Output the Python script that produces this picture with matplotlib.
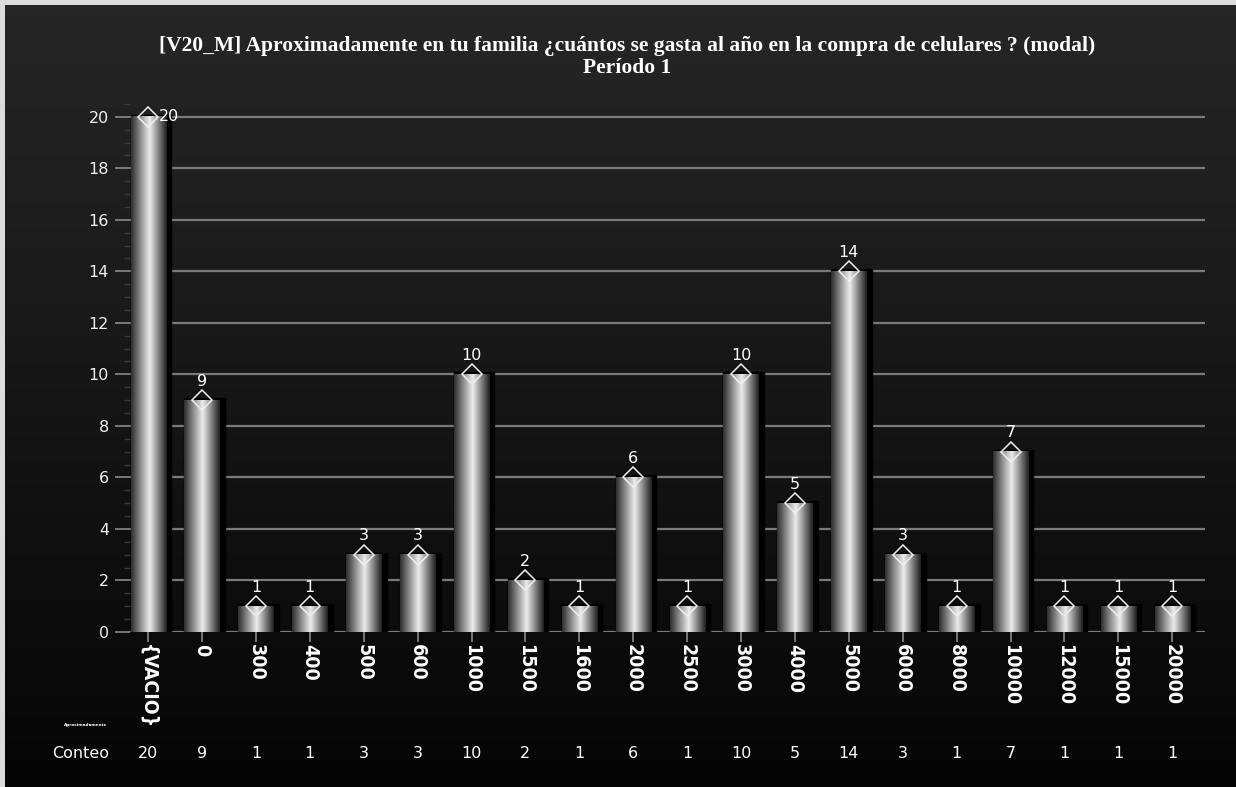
import numpy as np
import matplotlib.pyplot as plt
from matplotlib.patches import Rectangle
from matplotlib.transforms import blended_transform_factory

categories = ["{VACIO}", "0", "300", "400", "500", "600", "1000", "1500", "1600", "2000",
              "2500", "3000", "4000", "5000", "6000", "8000", "10000", "12000", "15000", "20000"]
counts = [20, 9, 1, 1, 3, 3, 10, 2, 1, 6, 1, 10, 5, 14, 3, 1, 7, 1, 1, 1]

title_line1 = "[V20_M] Aproximadamente en tu familia ¿cuántos se gasta al año en la compra de celulares ? (modal)"
title_line2 = "Período 1"

fig = plt.figure(figsize=(12.36, 7.87), dpi=100, facecolor="#dcdcdc")

# fondo degradado (gris oscuro arriba, negro abajo)
bg = fig.add_axes([0.004, 0.0, 0.996, 0.994])
grad = np.linspace(0.15, 0.02, 256).reshape(-1, 1)
bg.imshow(grad, cmap="gray", vmin=0, vmax=1, aspect="auto", extent=[0, 1, 0, 1])
bg.set_axis_off()

ax = fig.add_axes([0.105, 0.197, 0.870, 0.671])
ax.patch.set_alpha(0)

for s in ax.spines.values():
    s.set_visible(False)

ax.set_yticks(range(0, 21, 2))
ax.set_yticks(np.arange(0, 20.6, 0.5), minor=True)
ax.yaxis.grid(True, color="#7a7a7a", linewidth=1.6)
ax.set_axisbelow(True)
ax.tick_params(axis="y", which="major", colors="#8a8a8a", length=11, width=1.2,
               labelcolor="#f0f0f0", labelsize=11.5, pad=4)
ax.tick_params(axis="y", which="minor", colors="#3a3a3a", length=4, width=1)

x = np.arange(len(categories))
ax.set_xticks(x)
ax.set_xticklabels(categories, rotation=-90, fontsize=14, fontweight="bold",
                   fontstretch="condensed", family=["Liberation Sans Narrow", "DejaVu Sans"])
ax.tick_params(axis="x", colors="#8a8a8a", labelcolor="white", length=14, width=1.2,
               direction="inout", pad=2)

w = 0.65
shade = np.concatenate([np.linspace(0.18, 0.92, 52), np.linspace(0.92, 0.12, 48)]).reshape(1, -1)
for xi, v in zip(x, counts):
    # sombra negra a la derecha
    ax.add_patch(Rectangle((xi - w / 2, 0), w + 0.1, v + 0.08, color="black", zorder=2))
    ax.imshow(shade, cmap="gray", vmin=0, vmax=1, aspect="auto",
              extent=[xi - w / 2, xi + w / 2, 0, v], zorder=3)
    ax.plot(xi, v, marker="D", markersize=10, markerfacecolor="none",
            markeredgecolor="#f0f0f0", markeredgewidth=1.1, linestyle="none", zorder=4)
    if v == max(counts):
        ax.text(xi + 0.2, v, str(v), ha="left", va="center", color="white", fontsize=11.5, zorder=5)
    else:
        ax.text(xi, v + 0.45, str(v), ha="center", va="bottom", color="white", fontsize=11.5, zorder=5)

ax.set_xlim(-0.34, 19.61)
ax.set_ylim(0, 20.5)

fig.text(0.507, 0.941, title_line1, ha="center", va="center", color="white", fontsize=15.5,
         fontweight="bold", family="Liberation Serif")
fig.text(0.507, 0.913, title_line2, ha="center", va="center", color="white", fontsize=15.5,
         fontweight="bold", family="Liberation Serif")

# fila de conteo
tr = blended_transform_factory(ax.transData, fig.transFigure)
fig.text(0.065, 0.043, "Conteo", ha="center", va="center", color="white", fontsize=11.5)
for xi, v in zip(x, counts):
    ax.text(xi, 0.043, str(v), transform=tr, ha="center", va="center", color="white", fontsize=11.5)

fig.text(0.069, 0.079, "Aproximadamente", ha="center", va="center", color="white",
         fontsize=3, fontweight="bold")

fig.savefig("out.png", dpi=100, facecolor=fig.get_facecolor())
